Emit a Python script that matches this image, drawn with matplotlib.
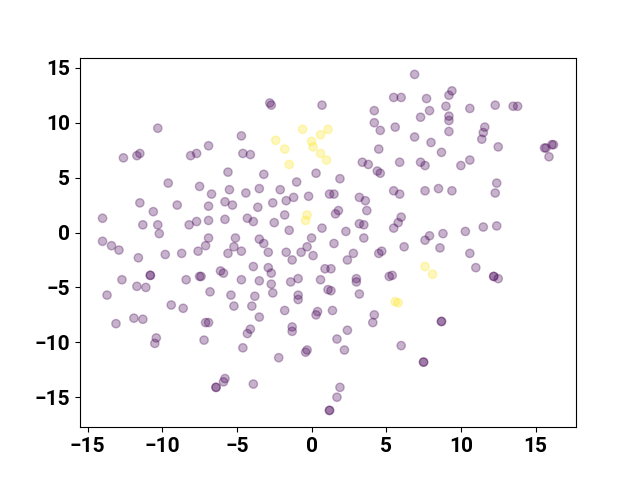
import matplotlib
matplotlib.use("Agg")
import matplotlib.pyplot as plt
import numpy as np

# embedding coordinates, class 0 (purple)
x0 = [-10.3, -12.6, -11.7, -11.5, -8.1, -7.7, -2.8, -2.7, 0.7, -4.7,
      -6.9, -4.6, -4.1, -5.6, -3.2, 0.3, -1.0, 6.9, 5.5, 6.0,
      7.7, 9.4, 9.2, 4.2, 7.9, 9.0, 4.2, 7.3, 4.6, 5.6,
      9.2, 9.2, 9.2, 6.9, 8.0, 8.7, 4.5, 3.4, 3.8, 4.4,
      4.6, 5.9, 7.3, 7.6, 1.9, 10.6, 12.3, 13.5, 13.8, 11.6,
      11.5, 11.4, 12.5, 10.6, 10.0, 12.4, 15.6, 15.7, 16.1, 16.2,
      15.9, -9.6, -7.5, -11.5, -10.6, -9.0, -14.0, -11.3, -10.3, -10.2,
      -8.2, -7.7, -14.0, -13.4, -12.9, -11.6, -9.8, -8.7, -7.6, -10.8,
      -10.8, -12.7, -11.7, -11.1, -8.4, -7.5, -7.4, -13.7, -9.4, -8.6,
      -13.1, -11.9, -11.3, -10.4, -10.5, -7.1, -6.9, -7.2, -5.2, -4.0,
      -3.5, -1.8, 0.4, 0.3, -4.3, -4.1, -1.3, -1.3, -4.6, -2.2,
      -0.4, -0.3, -5.8, -5.9, -6.4, -6.4, -3.9, 1.2, 1.2, 1.4,
      4.2, 4.1, 2.4, 1.7, 2.2, 6.0, 8.7, 8.7, 7.5, 7.5,
      1.9, 1.7, -6.7, -5.5, -4.4, -3.5, -2.1, -6.9, -5.8, -5.3,
      -3.6, -2.6, -1.7, -1.2, -0.2, 1.2, 1.5, -6.9, -5.8, -4.3,
      -3.9, -2.5, -1.8, -1.5, 0.7, -6.9, -7.1, -5.1, -5.2, -5.6,
      -4.7, -3.5, -3.2, -2.9, -1.7, -1.3, -0.7, -0.3, 0.0, 0.1,
      -3.9, -2.9, -2.7, -6.1, -5.9, -4.7, -3.5, -2.7, -2.6, -1.4,
      -0.9, 0.6, 0.9, 1.3, 1.1, 1.3, -6.8, -5.4, -3.8, -0.9,
      -0.9, 3.2, 3.6, 3.7, 1.6, 1.8, 2.3, 3.2, 3.5, 3.5,
      1.5, 5.5, 5.9, 7.6, 8.5, 9.4, 6.0, 5.8, 5.5, 7.6,
      7.9, 8.8, 8.6, 6.2, 2.8, 2.4, 4.7, 4.5, 3.0, 3.0,
      5.2, 5.4, 3.2, 12.3, 10.3, 11.5, 12.4, 10.6, 11.0, 12.2,
      12.2, 12.5]
y0 = [9.5, 6.8, 7.0, 7.2, 7.0, 7.2, 11.8, 11.6, 11.6, 8.8,
      7.9, 7.2, 7.1, 5.5, 5.3, 5.4, 4.6, 14.4, 12.3, 12.3,
      12.2, 12.9, 12.5, 11.1, 11.1, 11.5, 10.0, 10.5, 9.3, 9.6,
      10.6, 10.2, 9.2, 8.7, 8.2, 7.3, 7.6, 6.4, 6.2, 5.6,
      5.4, 6.4, 6.4, 6.1, 4.9, 11.3, 11.6, 11.5, 11.5, 9.6,
      9.1, 8.5, 7.8, 6.6, 6.1, 4.5, 7.7, 7.7, 8.0, 8.0,
      6.9, 4.5, 4.2, 2.7, 1.9, 2.5, 1.3, 0.7, 0.7, -0.1,
      0.7, 1.0, -0.8, -1.2, -1.6, -2.3, -2.0, -1.9, -1.7, -3.9,
      -3.9, -4.3, -4.9, -5.0, -4.3, -4.0, -4.0, -5.7, -6.6, -6.9,
      -8.3, -7.8, -7.9, -9.6, -10.1, -8.2, -8.2, -9.8, -6.7, -6.7,
      -7.7, -7.1, -7.2, -7.5, -9.2, -8.8, -8.6, -9.0, -10.5, -11.4,
      -10.9, -10.7, -13.3, -13.6, -14.1, -14.1, -13.8, -16.2, -16.2, -7.1,
      -7.5, -8.2, -8.9, -9.7, -10.7, -10.3, -8.1, -8.1, -11.8, -11.8,
      -14.1, -15.0, 3.5, 3.9, 3.6, 4.0, 3.9, 2.4, 2.8, 2.5,
      2.3, 2.7, 2.9, 3.2, 3.3, 3.5, 3.5, 1.1, 1.2, 1.3,
      1.0, 0.9, 1.6, 0.2, 0.4, -0.5, -1.2, -0.5, -1.3, -1.9,
      -1.7, -0.6, -1.0, -1.8, -1.8, -2.5, -1.8, -1.3, -0.5, -2.1,
      -3.1, -3.2, -3.7, -3.5, -3.7, -4.3, -4.4, -4.7, -5.5, -4.5,
      -4.2, -4.3, -3.3, -3.3, -5.2, -5.3, -5.4, -5.7, -5.8, -5.7,
      -6.1, 3.2, 2.9, 2.0, 1.7, 2.0, 0.1, 0.8, 0.7, -0.5,
      -1.0, 3.8, 3.5, 3.8, 4.0, 3.8, 1.4, 0.9, 0.4, -0.7,
      -0.3, -0.1, -1.4, -1.3, -1.9, -2.5, -1.7, -1.9, -4.2, -4.5,
      -4.0, -3.9, -5.6, 3.6, 0.1, 0.5, 0.6, -1.9, -3.2, -4.0,
      -4.0, -4.2]

# class 1 (yellow)
x1 = [-0.6, -2.4, -1.8, 0.0, 0.1, 0.6, 1.1, 0.6, 1.0, -1.5,
      -0.3, -0.4, 7.6, 8.1, 5.6, 5.8]
y1 = [9.4, 8.4, 7.6, 8.3, 7.8, 8.9, 9.4, 7.2, 6.6, 6.2,
      1.6, 1.1, -3.1, -3.8, -6.3, -6.4]

xs = np.array(x0 + x1)
ys = np.array(y0 + y1)
labels = np.array([0] * len(x0) + [1] * len(x1))

plt.rcParams["font.family"] = ["Roboto", "DejaVu Sans"]
plt.rcParams["font.size"] = 15
plt.rcParams["font.weight"] = "bold"

fig, ax = plt.subplots(figsize=(6.4, 4.8), dpi=100)
ax.scatter(xs, ys, c=labels, cmap="viridis", alpha=0.3)

fig.savefig("out.png")
